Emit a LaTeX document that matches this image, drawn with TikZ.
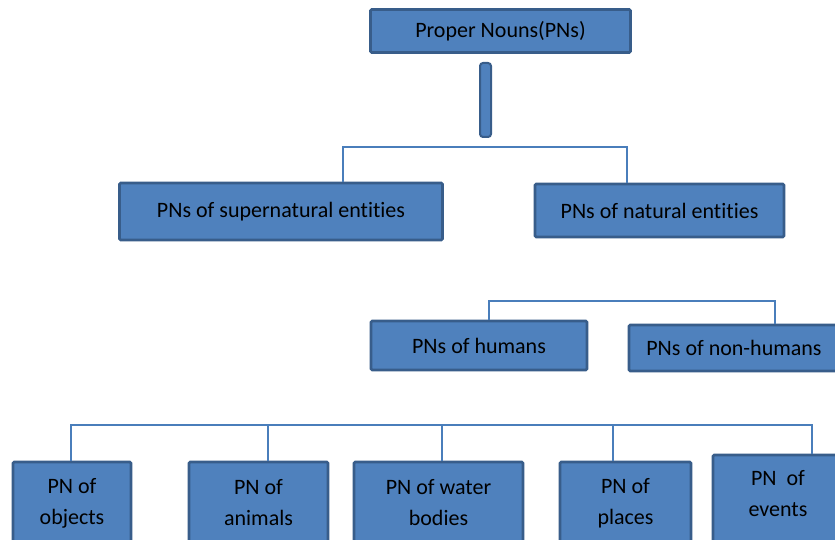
\documentclass[tikz,border=0pt]{standalone}
\usepackage{fontspec}
\setmainfont[Ligatures=NoCommon]{Carlito}
\definecolor{boxblue}{RGB}{79,129,189}
\definecolor{boxrim}{RGB}{56,93,138}
\definecolor{linkblue}{RGB}{74,126,187}

\begin{document}
\begin{tikzpicture}[x=1pt, y=-1pt,
    pnbox/.style={draw=boxrim, fill=boxblue, line width=2.6pt, rounded corners=1.2pt,
      inner sep=0pt, align=center, font=\fontsize{22}{31}\selectfont},
    stem/.style={draw=boxrim, fill=boxblue, line width=2pt, rounded corners=3pt, inner sep=0pt},
    link/.style={linkblue, line width=1.2pt}]
  \clip (0,0) rectangle (835,540);
  \fill[white] (0,0) rectangle (835,540);
  % top of the tree
  \node[pnbox, minimum width=260, minimum height=43] (root) at (500.5,31) {Proper Nouns(PNs)};
  \node[stem, minimum width=11, minimum height=74] (bar) at (485.5,100) {};
  % first split
  \node[pnbox, minimum width=323, minimum height=57] (super) at (281,211.5) {PNs of supernatural entities};
  \node[pnbox, minimum width=249, minimum height=53] (natural) at (659.5,210.5) {PNs of natural entities};
  % natural entities: humans and non-humans
  \node[pnbox, minimum width=216, minimum height=49] (humans) at (479,345.5) {PNs of humans};
  \node[pnbox, minimum width=210, minimum height=46] (nonhumans) at (734,348) {PNs of non-humans};
  % bottom row, cut off by the lower edge
  \node[pnbox, minimum width=118, minimum height=82] (objects) at (72,503) {PN of\\objects};
  \node[pnbox, minimum width=139, minimum height=82] (animals) at (258.5,503) {PN of\\animals};
  \node[pnbox, minimum width=169, minimum height=82] (water) at (438.5,503) {PN of water\\bodies};
  \node[pnbox, minimum width=131, minimum height=82] (places) at (625.5,503) {PN of\\places};
  \node[pnbox, minimum width=130, minimum height=90,
    label={[name=eventstext, align=center, font=\fontsize{22}{31}\selectfont, yshift=6pt]center:{PN~~of\\events}}]
    (events) at (778,500) {};
  % forks
  \coordinate (f1) at (343,147);
  \coordinate (f2) at (627,147);
  \draw[link] (f1 |- super.north) -- (f1) -- (f2) -- (f2 |- natural.north);
  \coordinate (g1) at (489,301);
  \coordinate (g2) at (775,301);
  \draw[link] (g1 |- humans.north) -- (g1) -- (g2) -- (g2 |- nonhumans.north);
  \coordinate (h1) at (71,425);
  \coordinate (h5) at (812,425);
  \draw[link] (h1 |- objects.north) -- (h1) -- (h5) -- (h5 |- events.north);
  \foreach \x/\b in {268/animals, 442/water, 613/places}
    \draw[link] (\x,425) -- (\x,0 |- \b.north);
\end{tikzpicture}
\end{document}
